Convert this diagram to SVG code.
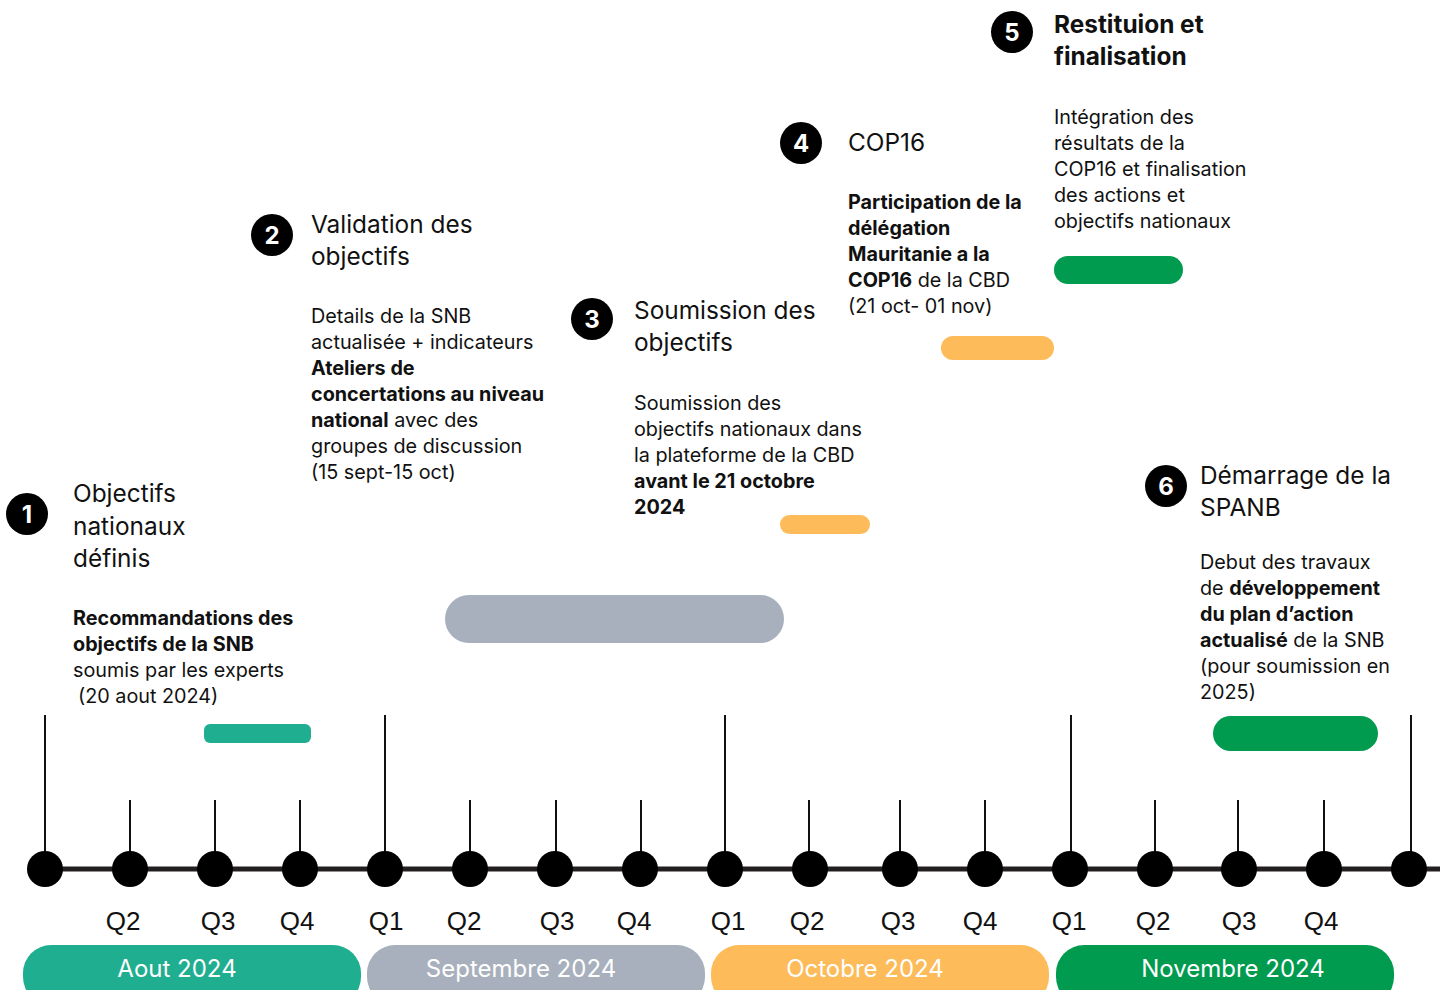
<svg xmlns="http://www.w3.org/2000/svg" width="1448" height="990" viewBox="0 0 1448 990">
<style>
.t{font-family:Inter,"Noto Sans",sans-serif;fill:#111;}
.h{font-size:24.4px;}
.b{font-size:19.8px;}
.bd{font-weight:700;}
.q{font-family:"Liberation Sans",Arial,sans-serif;font-size:26px;fill:#111;text-anchor:middle;}
.m{font-family:Inter,"Noto Sans",sans-serif;font-size:24px;fill:#fff;text-anchor:middle;}
.num{font-family:Inter,"Noto Sans",sans-serif;font-size:24px;font-weight:700;fill:#fff;text-anchor:middle;}
.tick{stroke:#111;stroke-width:2;}
.dot{fill:#000;}
</style>
<rect width="1448" height="990" fill="#fff"/>
<g id="connectors">
<line x1="28" y1="869" x2="1440" y2="869" stroke="#231f20" stroke-width="5"/>
<g class="tick">
<line x1="45" y1="715" x2="45" y2="869"/>
<line x1="385" y1="715" x2="385" y2="869"/>
<line x1="725" y1="715" x2="725" y2="869"/>
<line x1="1071" y1="715" x2="1071" y2="869"/>
<line x1="1411" y1="715" x2="1411" y2="869"/>
<line x1="130" y1="800" x2="130" y2="869"/>
<line x1="215" y1="800" x2="215" y2="869"/>
<line x1="300" y1="800" x2="300" y2="869"/>
<line x1="470" y1="800" x2="470" y2="869"/>
<line x1="556" y1="800" x2="556" y2="869"/>
<line x1="641" y1="800" x2="641" y2="869"/>
<line x1="809" y1="800" x2="809" y2="869"/>
<line x1="900" y1="800" x2="900" y2="869"/>
<line x1="985" y1="800" x2="985" y2="869"/>
<line x1="1155" y1="800" x2="1155" y2="869"/>
<line x1="1238" y1="800" x2="1238" y2="869"/>
<line x1="1324" y1="800" x2="1324" y2="869"/>
</g>
<g class="dot">
<circle cx="45" cy="869" r="18"/><circle cx="130" cy="869" r="18"/><circle cx="215" cy="869" r="18"/><circle cx="300" cy="869" r="18"/>
<circle cx="385" cy="869" r="18"/><circle cx="470" cy="869" r="18"/><circle cx="555" cy="869" r="18"/><circle cx="640" cy="869" r="18"/>
<circle cx="725" cy="869" r="18"/><circle cx="810" cy="869" r="18"/><circle cx="900" cy="869" r="18"/><circle cx="985" cy="869" r="18"/>
<circle cx="1070" cy="869" r="18"/><circle cx="1155" cy="869" r="18"/><circle cx="1239" cy="869" r="18"/><circle cx="1324" cy="869" r="18"/>
<circle cx="1409" cy="869" r="18"/>
</g>
</g>
<g id="quarters">
<text class="q" x="123" y="930">Q2</text><text class="q" x="218" y="930">Q3</text><text class="q" x="297" y="930">Q4</text>
<text class="q" x="386" y="930">Q1</text><text class="q" x="464" y="930">Q2</text><text class="q" x="557" y="930">Q3</text><text class="q" x="634" y="930">Q4</text>
<text class="q" x="728" y="930">Q1</text><text class="q" x="807" y="930">Q2</text><text class="q" x="898" y="930">Q3</text><text class="q" x="980" y="930">Q4</text>
<text class="q" x="1069" y="930">Q1</text><text class="q" x="1153" y="930">Q2</text><text class="q" x="1239" y="930">Q3</text><text class="q" x="1321" y="930">Q4</text>
</g>
<g id="months">
<g id="m-aout"><rect x="23" y="945" width="338" height="60" rx="28" fill="#1fae8f"/><text class="m" x="177" y="977">Aout 2024</text></g>
<g id="m-sept"><rect x="367" y="945" width="338" height="60" rx="28" fill="#a7b0bc"/><text class="m" x="521" y="977">Septembre 2024</text></g>
<g id="m-oct"><rect x="711" y="945" width="338" height="60" rx="28" fill="#fdbb5a"/><text class="m" x="865" y="977">Octobre 2024</text></g>
<g id="m-nov"><rect x="1056" y="945" width="338" height="60" rx="28" fill="#009b4e"/><text class="m" x="1233" y="977">Novembre 2024</text></g>
</g>
<g id="bars">
<rect x="204" y="724" width="107" height="19" rx="6" fill="#1fae8f"/>
<rect x="445" y="595" width="339" height="48" rx="24" fill="#a7b0bc"/>
<rect x="780" y="515" width="90" height="19" rx="9.5" fill="#fdbb5a"/>
<rect x="941" y="336" width="113" height="24" rx="12" fill="#fdbb5a"/>
<rect x="1054" y="256" width="129" height="28" rx="14" fill="#009b4e"/>
<rect x="1213" y="716" width="165" height="35" rx="17.5" fill="#009b4e"/>
</g>
<g id="step1">
<circle cx="27" cy="514" r="21" fill="#000"/><text class="num" x="27" y="523">1</text>
<text class="t h" x="73" y="502">Objectifs</text>
<text class="t h" x="73" y="535">nationaux</text>
<text class="t h" x="73" y="567">définis</text>
<text class="t b" x="73" y="625"><tspan class="bd">Recommandations des</tspan></text>
<text class="t b" x="73" y="651"><tspan class="bd">objectifs de la SNB</tspan></text>
<text class="t b" x="73" y="677">soumis par les experts</text>
<text class="t b" x="78" y="703">(20 aout 2024)</text>
</g>
<g id="step2">
<circle cx="272" cy="235" r="21" fill="#000"/><text class="num" x="272" y="244">2</text>
<text class="t h" x="311" y="233">Validation des</text>
<text class="t h" x="311" y="265">objectifs</text>
<text class="t b" x="311" y="323">Details de la SNB</text>
<text class="t b" x="311" y="349">actualisée + indicateurs</text>
<text class="t b bd" x="311" y="375">Ateliers de</text>
<text class="t b bd" x="311" y="401">concertations au niveau</text>
<text class="t b" x="311" y="427"><tspan class="bd">national</tspan> avec des</text>
<text class="t b" x="311" y="453">groupes de discussion</text>
<text class="t b" x="311" y="479">(15 sept-15 oct)</text>
</g>
<g id="step3">
<circle cx="592" cy="319" r="21" fill="#000"/><text class="num" x="592" y="328">3</text>
<text class="t h" x="634" y="319">Soumission des</text>
<text class="t h" x="634" y="351">objectifs</text>
<text class="t b" x="634" y="410">Soumission des</text>
<text class="t b" x="634" y="436">objectifs nationaux dans</text>
<text class="t b" x="634" y="462">la plateforme de la CBD</text>
<text class="t b bd" x="634" y="488">avant le 21 octobre</text>
<text class="t b bd" x="634" y="514">2024</text>
</g>
<g id="step4">
<circle cx="801" cy="143" r="21" fill="#000"/><text class="num" x="801" y="152">4</text>
<text class="t h" x="848" y="151">COP16</text>
<text class="t b bd" x="848" y="209">Participation de la</text>
<text class="t b bd" x="848" y="235">délégation</text>
<text class="t b bd" x="848" y="261">Mauritanie a la</text>
<text class="t b" x="848" y="287"><tspan class="bd">COP16</tspan> de la CBD</text>
<text class="t b" x="848" y="313">(21 oct- 01 nov)</text>
</g>
<g id="step5">
<circle cx="1012" cy="32" r="21" fill="#000"/><text class="num" x="1012" y="41">5</text>
<text class="t h bd" x="1054" y="33">Restituion et</text>
<text class="t h bd" x="1054" y="65">finalisation</text>
<text class="t b" x="1054" y="124">Intégration des</text>
<text class="t b" x="1054" y="150">résultats de la</text>
<text class="t b" x="1054" y="176">COP16 et finalisation</text>
<text class="t b" x="1054" y="202">des actions et</text>
<text class="t b" x="1054" y="228">objectifs nationaux</text>
</g>
<g id="step6">
<circle cx="1166" cy="486" r="21" fill="#000"/><text class="num" x="1166" y="495">6</text>
<text class="t h" x="1200" y="484">Démarrage de la</text>
<text class="t h" x="1200" y="516">SPANB</text>
<text class="t b" x="1200" y="569">Debut des travaux</text>
<text class="t b" x="1200" y="595">de <tspan class="bd">développement</tspan></text>
<text class="t b bd" x="1200" y="621">du plan d’action</text>
<text class="t b" x="1200" y="647"><tspan class="bd">actualisé</tspan> de la SNB</text>
<text class="t b" x="1200" y="673">(pour soumission en</text>
<text class="t b" x="1200" y="699">2025)</text>
</g>
</svg>
